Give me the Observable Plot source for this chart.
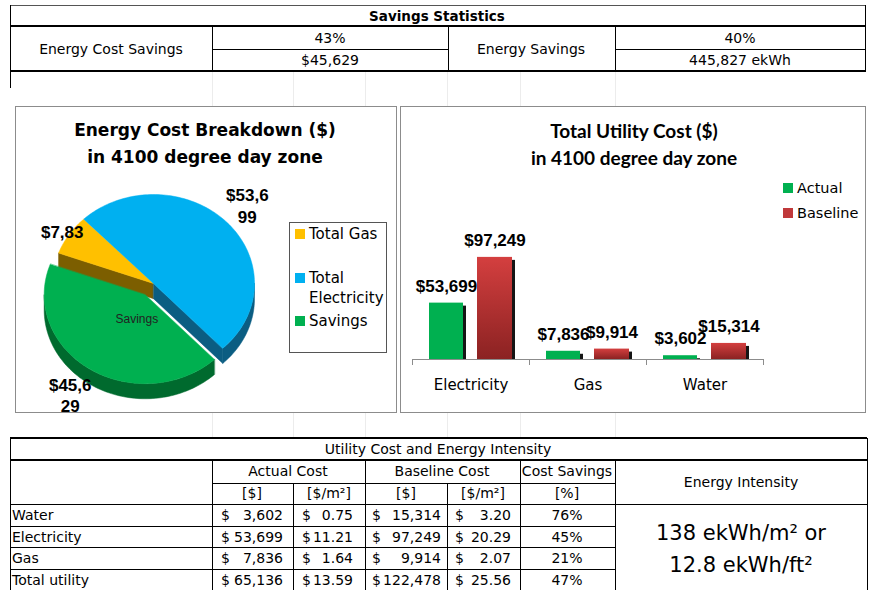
<!DOCTYPE html>
<html>
<head>
<meta charset="utf-8">
<script src="https://cdn.jsdelivr.net/npm/d3@7"></script>
<script src="https://cdn.jsdelivr.net/npm/@observablehq/plot@0.6"></script>
<style>
html,body{margin:0;padding:0;background:#fff;}
body{position:relative;width:870px;height:590px;overflow:hidden;font-family:"DejaVu Sans",sans-serif;font-size:14px;color:#000;}
</style>
</head>
<body>
<script>
// ---------------- data ----------------
const savingsTitle = "Savings Statistics";
const savingsLabels = ["Energy Cost Savings", "Energy Savings"];
const savingsPercent = [43, 40];
const savingsAmounts = [45629, 445827];

const pieTitle = ["Energy Cost Breakdown ($)", "in 4100 degree day zone"];
const pieCategories = ["Total Gas", "Total Electricity", "Savings"];
const pieValues = [7836, 53699, 45629];

const barTitle = ["Total Utility Cost ($)", "in 4100 degree day zone"];
const utilities = ["Electricity", "Gas", "Water"];
const seriesNames = ["Actual", "Baseline"];
const actualCost = [53699, 7836, 3602];
const baselineCost = [97249, 9914, 15314];

const tableTitle = "Utility Cost and Energy Intensity";
const tableGroups = ["Actual Cost", "Baseline Cost", "Cost Savings"];
const tableUnits = ["[$]", "[$/m²]", "[$]", "[$/m²]", "[%]"];
const tableRows = ["Water", "Electricity", "Gas", "Total utility"];
const tableActual = [3602, 53699, 7836, 65136];
const tableActualPerM2 = [0.75, 11.21, 1.64, 13.59];
const tableBaseline = [15314, 97249, 9914, 122478];
const tableBaselinePerM2 = [3.20, 20.29, 2.07, 25.56];
const tableSavingsPct = [76, 45, 21, 47];
const intensityHeader = "Energy Intensity";
const energyIntensityLines = ["138 ekWh/m² or", "12.8 ekWh/ft²"];

// ---------------- helpers ----------------
function box(l, t, w, h, css) {
  const d = document.createElement("div");
  d.style.cssText = `position:absolute;left:${l}px;top:${t}px;width:${w}px;height:${h}px;${css || ""}`;
  document.body.appendChild(d);
  return d;
}
function hl(x1, x2, y, w = 1, c = "#000") { box(x1, Math.round(y - w / 2), x2 - x1, w, `background:${c}`); }
function vl(x, y1, y2, w = 1, c = "#000") { box(Math.round(x - w / 2), y1, w, y2 - y1, `background:${c}`); }
function txt(s, x, y, css, align = "center", w = 500) {
  const left = align === "center" ? x - w / 2 : align === "right" ? x - w : x;
  const d = box(left, y - 12, w, 24, `line-height:24px;text-align:${align};white-space:nowrap;${css || ""}`);
  d.textContent = s;
  return d;
}
const fmtInt = d3.format(",");
const fmt2 = d3.format(".2f");

// ---------------- faint spreadsheet grid ----------------
[212, 293, 365, 447, 520, 615].forEach(x => { vl(x, 72, 106, 1, "#ececec"); vl(x, 413, 438, 1, "#ececec"); });

// ---------------- top table ----------------
box(10, 5, 855, 67, "background:#fff");
hl(10, 865, 5, 1, "#555");
hl(10, 865, 26, 2);
hl(212, 448, 49, 1); hl(615, 865, 49, 1);
hl(10, 865, 71, 2);
vl(10, 5, 88); vl(865, 5, 72); vl(212, 26, 72); vl(448, 26, 72); vl(615, 26, 72);
txt(savingsTitle, 437, 16, "font-weight:bold;font-size:13.5px");
txt(savingsLabels[0], 111, 49);
txt(savingsPercent[0] + "%", 330, 38);
txt("$" + fmtInt(savingsAmounts[0]), 330, 60);
txt(savingsLabels[1], 531, 49);
txt(savingsPercent[1] + "%", 740, 38);
txt(fmtInt(savingsAmounts[1]) + " ekWh", 740, 60);

// ---------------- pie panel ----------------
box(15, 106, 382, 307, "border:1px solid #8c8c8c;background:#fff;box-sizing:border-box");

const P = Math.PI;
const startDeg = 200; // screen angle, clockwise from 3 o'clock
const arcs = d3.pie().sort(null)
  .startAngle((startDeg + 90) * P / 180)
  .endAngle((startDeg + 90 + 360) * P / 180)(pieValues);
const explodeBy = {"Savings": 0.15};
const depth = 0.17;
const slices = arcs.map((a, i) => {
  const key = pieCategories[i];
  const a0 = a.startAngle - P / 2, a1 = a.endAngle - P / 2, mid = (a0 + a1) / 2;
  const e = explodeBy[key] || 0;
  return {key, i, value: a.value, a0, a1, mid, ox: e * Math.cos(mid), oy: e * Math.sin(mid), exploded: e > 0};
});
function arcPoints(s, b0, b1, dz) {
  const n = Math.max(2, Math.ceil((b1 - b0) / (P / 120)));
  return d3.range(n + 1).map(k => {
    const a = b0 + (b1 - b0) * k / n;
    return [s.ox + Math.cos(a), s.oy + Math.sin(a) + dz];
  });
}
function radial(s, a) {
  return [[s.ox, s.oy], [s.ox + Math.cos(a), s.oy + Math.sin(a)],
          [s.ox + Math.cos(a), s.oy + Math.sin(a) + depth], [s.ox, s.oy + depth]];
}
function wallsOf(s) {
  const n = slices.length, idx = s.i;
  const prev = slices[(idx - 1 + n) % n], next = slices[(idx + 1) % n];
  const out = [];
  if (Math.cos(s.a0) < 0 && (s.exploded || prev.exploded)) out.push(radial(s, s.a0));
  if (Math.cos(s.a1) > 0 && (s.exploded || next.exploded)) out.push(radial(s, s.a1));
  for (let k = -1; k <= 2; k++) {
    const b0 = Math.max(s.a0, 2 * P * k), b1 = Math.min(s.a1, 2 * P * k + P);
    if (b1 > b0) out.push([...arcPoints(s, b0, b1, 0), ...arcPoints(s, b0, b1, depth).reverse()]);
  }
  return out.map(pts => ({key: s.key + " side", pts}));
}
function topOf(s) { return {key: s.key, pts: [[s.ox, s.oy], ...arcPoints(s, s.a0, s.a1, 0)]}; }
const polys = [];
[slices.filter(s => !s.exploded), slices.filter(s => s.exploded)].forEach(group => {
  group.forEach(s => polys.push(...wallsOf(s)));
  group.forEach(s => polys.push(topOf(s)));
});
const labelR = {"Total Gas": 1.08, "Total Electricity": 1.28, "Savings": 1.35};
const labelMaxLines = {"Total Gas": 1};
const pieLabels = slices.map(s => {
  const r = labelR[s.key];
  const lines = ("$" + fmtInt(s.value)).match(/.{1,5}/g).slice(0, labelMaxLines[s.key] || 9);
  return {x: s.ox + r * Math.cos(s.mid), y: s.oy + r * Math.sin(s.mid), text: lines.join("\n")};
});
const savSlice = slices.find(s => s.key === "Savings");
const innerLabel = [{x: savSlice.ox + 0.33 * Math.cos(savSlice.mid), y: savSlice.oy + 0.33 * Math.sin(savSlice.mid), text: "Savings"}];

const pieColors = ["#ffc000", "#00b0f0", "#00b050"];
const pieSideColors = ["#7c5e00", "#0b5d82", "#006a2e"];
const cx = 138, cy = 177, rx = 101, ry = 89;
const pieSvg = Plot.plot({
  width: 382, height: 307, margin: 0,
  x: {domain: [-1, 1], range: [cx - rx, cx + rx], axis: null},
  y: {domain: [-1, 1], range: [cy - ry, cy + ry], axis: null},
  color: {domain: pieCategories.concat(pieCategories.map(k => k + " side")), range: pieColors.concat(pieSideColors)},
  style: {background: "transparent", overflow: "visible"},
  marks: [
    ...polys.map(p => Plot.line(p.pts, {x: d => d[0], y: d => d[1], fill: () => p.key, stroke: () => p.key, strokeWidth: 0.5, curve: "linear-closed"})),
    Plot.text(pieLabels, {x: "x", y: "y", text: "text", fontFamily: "Liberation Sans", fontWeight: "bold", fontSize: 17, lineHeight: 1.25, fill: "#000"}),
    Plot.text(innerLabel, {x: "x", y: "y", text: "text", dx: 10, fontFamily: "Liberation Sans", fontSize: 12, fill: "#222"})
  ]
});
pieSvg.style.position = "absolute"; pieSvg.style.left = "15px"; pieSvg.style.top = "106px";
document.body.appendChild(pieSvg);

txt(pieTitle[0], 205, 130, "font-weight:bold;font-size:17px");
txt(pieTitle[1], 205, 157, "font-weight:bold;font-size:17px");

// pie legend
box(289, 222, 98, 131, "border:1px solid #555;background:#fff;box-sizing:border-box");
const pieLegendY = [[234], [278, 298], [321]];
pieCategories.forEach((c, i) => {
  box(295, pieLegendY[i][0] - 5, 10, 10, `background:${pieColors[i]}`);
  const words = i === 1 ? ["Total", "Electricity"] : [c];
  words.forEach((w, j) => txt(w, 309, pieLegendY[i][j], "font-size:15px", "left", 90));
});

// ---------------- bar panel ----------------
box(400, 106, 466, 307, "border:1px solid #8c8c8c;background:#fff;box-sizing:border-box");
txt(barTitle[0], 634, 131, "font-family:Lato;font-weight:bold;font-size:19px");
txt(barTitle[1], 634, 158, "font-family:Lato;font-weight:bold;font-size:19px");
const barColors = ["#00b050", "#c0393b"];
seriesNames.forEach((s, i) => {
  box(783, 183 + i * 25, 10, 10, `background:${barColors[i]}`);
  txt(s, 797, 188 + i * 25, "font-size:14.5px", "left", 70);
});

const barData = utilities.flatMap((u, i) => [
  {utility: u, series: seriesNames[0], value: actualCost[i]},
  {utility: u, series: seriesNames[1], value: baselineCost[i]}
]);
const barGeom = {
  Actual: {insetLeft: 17, insetRight: 66, dx: -24.5},
  Baseline: {insetLeft: 65, insetRight: 17, dx: 24}
};
const defsMark = () => {
  const s = d3.create("svg:defs");
  const g = s.append("linearGradient").attr("id", "baseGrad").attr("x1", "0").attr("y1", "0").attr("x2", "0").attr("y2", "1");
  g.append("stop").attr("offset", "0").attr("stop-color", "#d43f3f");
  g.append("stop").attr("offset", "1").attr("stop-color", "#8b2222");
  return s.node();
};
const boundaryTicks = (...args) => {
  const dims = args.find(a => a && typeof a === "object" && "marginLeft" in a && "width" in a);
  const g = d3.create("svg:g");
  const n = utilities.length;
  const x0 = dims.marginLeft, x1 = dims.width - dims.marginRight, yb = dims.height - dims.marginBottom;
  for (let i = 0; i <= n; i++) {
    const x = Math.round(x0 + (x1 - x0) * i / n) + 0.5;
    g.append("line").attr("x1", x).attr("x2", x).attr("y1", yb).attr("y2", yb + 6).attr("stroke", "#8c8c8c");
  }
  return g.node();
};
const barMarks = [defsMark];
seriesNames.forEach(s => {
  const g = barGeom[s];
  const d = barData.filter(r => r.series === s);
  barMarks.push(Plot.barY(d, {x: "utility", y: "value", fill: "#151515", insetLeft: g.insetLeft + 3, insetRight: g.insetRight - 3, insetTop: 3}));
  barMarks.push(Plot.barY(d, {x: "utility", y: "value", fill: "series", insetLeft: g.insetLeft, insetRight: g.insetRight}));
});
barMarks.push(Plot.ruleY([0], {stroke: "#8c8c8c"}));
barMarks.push(boundaryTicks);
seriesNames.forEach(s => {
  const g = barGeom[s];
  barMarks.push(Plot.text(barData.filter(r => r.series === s), {
    x: "utility", y: "value", text: r => "$" + fmtInt(r.value), dx: g.dx, dy: -17,
    fontFamily: "Liberation Sans", fontWeight: "bold", fontSize: 17, fill: "#000"
  }));
});
const barSvg = Plot.plot({
  width: 466, height: 192, marginLeft: 12, marginRight: 103, marginTop: 20, marginBottom: 46,
  x: {domain: utilities, padding: 0, tickSize: 0, tickPadding: 20, label: null},
  y: {domain: [0, 120000], axis: null},
  color: {domain: seriesNames, range: ["#00b050", "url(#baseGrad)"]},
  style: {background: "transparent", fontFamily: "DejaVu Sans", fontSize: "15px", color: "#000", overflow: "visible"},
  marks: barMarks
});
barSvg.style.position = "absolute"; barSvg.style.left = "400px"; barSvg.style.top = "213px";
document.body.appendChild(barSvg);

// ---------------- bottom table ----------------
box(10, 438, 857, 152, "background:#fff");
hl(10, 867, 438, 2); hl(10, 867, 460, 2);
hl(212, 615, 483, 1); hl(10, 867, 504, 1);
[526, 547, 569].forEach(y => hl(10, 615, y, 1));
vl(10, 438, 590); vl(867, 438, 590);
vl(212, 460, 590); vl(293, 483, 590); vl(365, 460, 590); vl(447, 483, 590); vl(520, 460, 590); vl(615, 460, 590);
txt(tableTitle, 438, 449);
txt(tableGroups[0], 288, 471); txt(tableGroups[1], 442, 471); txt(tableGroups[2], 567, 471);
[252, 329, 406, 483, 567].forEach((x, i) => txt(tableUnits[i], x, 493));
txt(intensityHeader, 741, 482);
const rowY = [515, 537, 558, 580];
const moneyCols = [
  {vals: tableActual, f: fmtInt, l: 221, r: 283},
  {vals: tableActualPerM2, f: fmt2, l: 302, r: 353},
  {vals: tableBaseline, f: fmtInt, l: 372, r: 441},
  {vals: tableBaselinePerM2, f: fmt2, l: 455, r: 511}
];
tableRows.forEach((name, i) => {
  txt(name, 12, rowY[i], "", "left", 190);
  moneyCols.forEach(c => {
    txt("$", c.l, rowY[i], "", "left", 12);
    txt(c.f(c.vals[i]), c.r, rowY[i], "", "right", 70);
  });
  txt(tableSavingsPct[i] + "%", 567, rowY[i]);
});
txt(energyIntensityLines[0], 741, 533, "font-size:21px");
txt(energyIntensityLines[1], 741, 565, "font-size:21px");
</script>
</body>
</html>
